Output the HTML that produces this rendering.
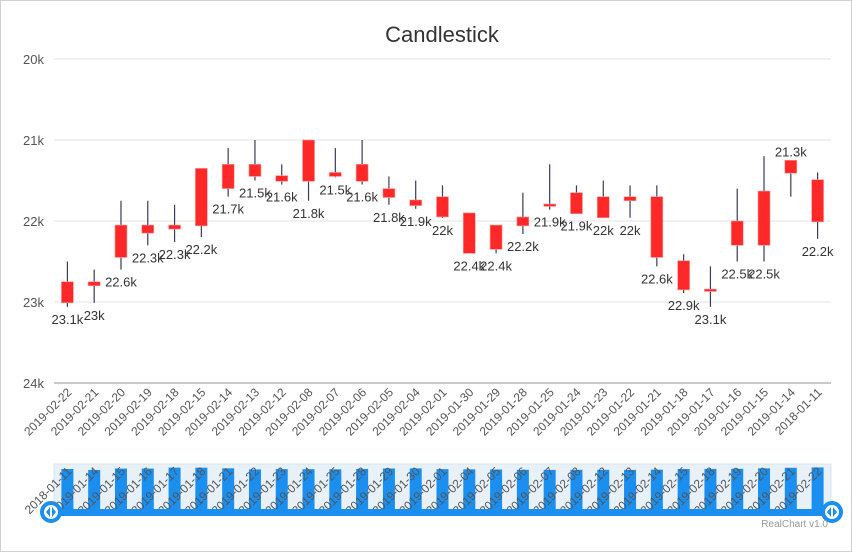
<!DOCTYPE html>
<html><head><meta charset="utf-8"><style>
html,body{margin:0;padding:0;background:#fff}
svg{display:block;font-family:"Liberation Sans",sans-serif}
</style></head><body>
<svg id="chart" width="852" height="552">
<rect x="0.5" y="0.5" width="851" height="551" fill="#fff" stroke="#d0d0d0"/>
<text x="442" y="42" text-anchor="middle" font-size="22" fill="#333">Candlestick</text>
<g id="grid"></g><g id="yaxis"></g><g id="candles"></g><g id="xaxis"></g><g id="nav"></g>
<text x="828" y="527" text-anchor="end" font-size="10" fill="#999">RealChart v1.0</text>
</svg>
<script>
const categories=["2019-02-22","2019-02-21","2019-02-20","2019-02-19","2019-02-18","2019-02-15","2019-02-14","2019-02-13","2019-02-12","2019-02-08","2019-02-07","2019-02-06","2019-02-05","2019-02-04","2019-02-01","2019-01-30","2019-01-29","2019-01-28","2019-01-25","2019-01-24","2019-01-23","2019-01-22","2019-01-21","2019-01-18","2019-01-17","2019-01-16","2019-01-15","2019-01-14","2018-01-11"];
const highs=[22.50,22.60,21.75,21.75,21.80,21.35,21.10,21.00,21.30,21.00,21.10,21.00,21.45,21.50,21.56,21.90,22.05,21.65,21.30,21.56,21.50,21.56,21.56,22.41,22.56,21.60,21.20,21.25,21.40];
const opens=[22.75,22.75,22.05,22.05,22.05,21.35,21.30,21.30,21.44,21.00,21.40,21.30,21.60,21.74,21.70,21.90,22.05,21.95,21.79,21.65,21.70,21.70,21.70,22.49,22.84,22.00,21.63,21.25,21.49];
const closes=[23.01,22.80,22.45,22.15,22.10,22.06,21.60,21.45,21.51,21.51,21.45,21.51,21.71,21.81,21.95,22.40,22.35,22.06,21.82,21.91,21.96,21.75,22.45,22.85,22.87,22.30,22.30,21.41,22.01];
const lows=[23.06,23.01,22.60,22.30,22.26,22.20,21.70,21.50,21.55,21.75,21.46,21.55,21.80,21.85,21.96,22.40,22.40,22.16,21.86,21.91,21.96,21.96,22.56,22.89,23.06,22.50,22.50,21.70,22.22];
const labelAbove=[0,0,0,0,0,0,0,0,0,0,0,0,0,0,0,0,0,0,0,0,0,0,0,0,0,0,0,1,0];
const yTicks=[20,21,22,23,24];
const NS="http://www.w3.org/2000/svg";
const X0=54,X1=831,Y0=59,Y1=383,slot=(X1-X0)/categories.length;
function xs(i){return X0+slot*(i+0.5);}
function ys(v){return Y0+(v-20)/4*(Y1-Y0);}
function mk(p,t,a,txt){const e=document.createElementNS(NS,t);for(const k in a)e.setAttribute(k,a[k]);if(txt!==undefined)e.textContent=txt;p.appendChild(e);return e;}
const grid=document.getElementById('grid'),ya=document.getElementById('yaxis'),cg=document.getElementById('candles'),xa=document.getElementById('xaxis'),nav=document.getElementById('nav');
yTicks.forEach(t=>{
 const l=mk(grid,'line',{x1:X0,x2:X1,y1:ys(t),y2:ys(t),stroke:t===24?'#c8c8c8':'#e3e3e3','stroke-width':t===24?2:1});
 
 
 const tx=mk(ya,'text',{x:44,y:ys(t)+5,'text-anchor':'end','font-size':13,fill:'#555'},t+'k');
 
 
});
categories.forEach((c,i)=>{
 const x=xs(i);
 const w=mk(cg,'line',{x1:x,x2:x,y1:ys(highs[i]),y2:ys(lows[i]),stroke:'#3a3a5a','stroke-width':1.2});
 
 
 const top=Math.min(opens[i],closes[i]),bot=Math.max(opens[i],closes[i]);
 const b=mk(cg,'rect',{x:x-6,y:ys(top),width:12,height:Math.max(2,ys(bot)-ys(top)),fill:'#ff2828',stroke:'#ff9a9a','stroke-width':0.6});
 
 
 const v=lows[i];
 const ly=labelAbove[i]?ys(highs[i])-4:ys(v)+17;
 const lt=mk(cg,'text',{x:x,y:ly,'text-anchor':'middle','font-size':13,fill:'#333'},(labelAbove[i]?highs[i]:v).toFixed(1).replace(/\.0$/,'')+'k');
 
 
 const xt=mk(xa,'text',{x:0,y:0,'text-anchor':'end','font-size':12,fill:'#555',transform:`translate(${x+5},${393}) rotate(-45)`},c);
 
 
});
const bg=mk(nav,'rect',{x:X0,y:464,width:X1-X0,height:46,fill:'#e8f0f8',stroke:'#d8e4f0'});


const n=categories.length;
for(let j=0;j<n;j++){
 const i=n-1-j,x=X0+slot*(j+0.5);
 const h=40+(closes[i]-21.4)*1.6;
 const nb=mk(nav,'rect',{x:x-6,y:510-h,width:12,height:h,fill:'#1a8ff0'});
 
 
 const nt=mk(nav,'text',{x:0,y:0,'text-anchor':'end','font-size':12,fill:'#555',transform:`translate(${x+5},${472}) rotate(-45)`},categories[i]);
 
 
}
const track=mk(nav,'rect',{x:X0-4,y:509,width:X1-X0+8,height:7,fill:'#1a8ff0'});


[[51,'left'],[832,'right']].forEach(([hx,s])=>{
 const c=mk(nav,'circle',{cx:hx,cy:512,r:9,fill:'#fff',stroke:'#1a8ff0','stroke-width':4});
 
 
 mk(nav,'path',{d:`M${hx-1},507 L${hx-5},512 L${hx-1},517Z M${hx+1},507 L${hx+5},512 L${hx+1},517Z`,fill:'#1a8ff0'});
});
</script>
</body></html>
